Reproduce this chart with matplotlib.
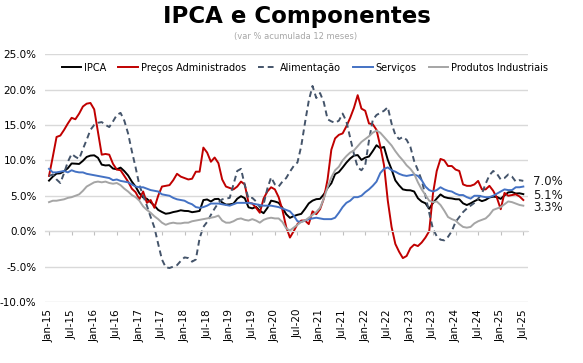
import matplotlib
matplotlib.use("Agg")
import matplotlib.pyplot as plt
import pandas as pd

# months Jan-15 .. Jul-25
months = pd.date_range("2015-01-01", periods=127, freq="MS")
month_labels = [d.strftime("%b-%y") for d in months]

ipca = [7.14, 7.70, 8.13, 8.17, 8.47, 8.89, 9.56, 9.53, 9.49, 9.93, 10.48, 10.67,
        10.71, 10.36, 9.39, 9.28, 9.32, 8.84, 8.74, 8.97, 8.48, 7.87, 6.99, 6.29,
        5.35, 4.76, 4.57, 4.08, 3.60, 3.00, 2.71, 2.46, 2.54, 2.70, 2.80, 2.95,
        2.86, 2.84, 2.68, 2.76, 2.86, 4.39, 4.48, 4.19, 4.53, 4.56, 4.05, 3.75,
        3.78, 3.89, 4.58, 4.94, 4.66, 3.37, 3.22, 3.43, 2.89, 2.54, 3.27, 4.31,
        4.19, 4.01, 3.30, 2.40, 1.88, 2.13, 2.31, 2.44, 3.14, 3.92, 4.31, 4.52,
        4.56, 5.20, 6.10, 6.76, 8.06, 8.35, 8.99, 9.68, 10.25, 10.67, 10.74, 10.06,
        10.38, 10.54, 11.30, 12.13, 11.73, 11.89, 10.07, 8.73, 7.17, 6.47, 5.90, 5.79,
        5.77, 5.60, 4.65, 4.18, 3.94, 3.16, 3.99, 4.61, 5.19, 4.82, 4.68, 4.62,
        4.51, 4.50, 3.93, 3.69, 3.93, 4.23, 4.50, 4.24, 4.42, 4.76, 4.87, 4.83,
        4.56, 5.06, 5.48, 5.53, 5.32, 5.35, 5.23]

administrados = [7.8, 10.5, 13.3, 13.5, 14.3, 15.2, 16.0, 15.8, 16.6, 17.6, 18.0, 18.1,
                 17.2, 14.0, 10.8, 10.9, 10.8, 9.5, 8.7, 8.6, 7.8, 7.0, 6.0, 5.5,
                 4.5, 5.6, 4.0, 4.4, 3.3, 5.0, 6.3, 6.4, 6.5, 7.2, 8.1, 7.7,
                 7.5, 7.3, 7.4, 8.4, 8.4, 11.8, 11.1, 9.8, 10.4, 9.6, 7.3, 6.3,
                 6.1, 5.9, 6.3, 7.0, 6.6, 4.0, 3.9, 3.3, 2.6, 4.6, 5.6, 6.2,
                 5.9, 4.8, 3.0, 0.6, -0.9, 0.0, 1.0, 1.5, 1.5, 1.0, 2.8, 2.4,
                 3.1, 4.6, 7.3, 11.5, 13.1, 13.6, 13.8, 14.8, 16.0, 17.4, 19.2, 17.3,
                 17.0, 15.2, 15.1, 14.3, 12.0, 9.3, 4.3, 0.6, -1.8, -2.9, -3.8, -3.5,
                 -2.4, -1.9, -2.1, -1.6, -0.9, 0.0, 5.3, 8.5, 10.2, 10.0, 9.2, 9.2,
                 8.7, 8.5, 6.6, 6.4, 6.4, 6.6, 7.1, 5.9, 5.9, 6.4, 5.7, 4.7,
                 3.1, 5.4, 5.0, 5.1, 5.2, 4.9, 4.4]

alimentacao = [7.8, 8.0, 7.3, 6.8, 8.2, 9.8, 10.9, 10.5, 10.2, 11.6, 12.9, 14.3,
               15.0, 15.3, 15.4, 15.0, 14.7, 15.5, 16.4, 16.7, 15.6, 13.8, 11.3, 9.0,
               6.5, 5.0, 3.6, 2.0, 0.5, -1.8, -4.0, -5.1, -5.2, -5.0, -4.8, -4.2,
               -3.7, -3.8, -4.3, -4.0, -1.0, 0.6, 1.3, 2.3, 3.2, 4.0, 4.5, 4.6,
               4.7, 6.6, 8.5, 8.8, 6.5, 4.6, 4.7, 4.2, 3.4, 3.8, 6.0, 7.6,
               6.6, 6.3, 7.0, 7.5, 8.4, 9.2, 9.7, 12.0, 15.3, 18.4, 20.5, 18.8,
               19.5, 18.2, 15.8, 15.5, 15.3, 15.6, 16.6, 15.5, 13.2, 10.9, 9.0, 8.6,
               9.3, 12.8, 15.7, 16.4, 16.7, 17.0, 17.5, 15.2, 13.6, 13.0, 13.3, 12.9,
               11.9, 9.9, 8.6, 7.2, 5.0, 2.6, 0.3, -0.7, -1.2, -1.3, -0.8, 0.0,
               1.3, 2.0, 2.7, 3.2, 3.6, 4.0, 4.6, 5.3, 6.7, 7.9, 8.5, 8.1,
               7.3, 7.5, 8.0, 7.7, 7.0, 7.2, 7.1]

servicos = [8.8, 8.3, 8.3, 8.4, 8.5, 8.3, 8.6, 8.4, 8.3, 8.3, 8.1, 8.0,
            7.9, 7.8, 7.7, 7.6, 7.5, 7.2, 7.3, 7.1, 7.0, 6.9, 6.6, 6.3,
            6.2, 6.2, 6.0, 5.8, 5.7, 5.6, 5.2, 5.1, 5.0, 4.7, 4.5, 4.4,
            4.3, 4.0, 3.8, 3.4, 3.3, 3.4, 3.6, 3.9, 3.9, 3.9, 3.8, 3.7,
            3.6, 3.8, 4.0, 4.0, 4.0, 4.0, 3.9, 3.8, 3.7, 3.6, 3.6, 3.6,
            3.5, 3.4, 3.2, 3.0, 2.8, 2.2, 1.4, 1.3, 1.5, 1.7, 1.8, 1.9,
            1.8, 1.7, 1.7, 1.7, 1.9, 2.6, 3.4, 4.0, 4.3, 4.8, 4.8, 5.0,
            5.5, 5.9, 6.4, 7.0, 8.2, 8.8, 9.0, 8.6, 8.4, 8.1, 7.9, 7.8,
            7.9, 8.0, 7.8, 7.2, 6.3, 5.8, 5.6, 5.8, 6.2, 5.9, 5.7, 5.6,
            5.3, 5.1, 5.1, 4.8, 4.6, 5.0, 5.0, 4.9, 4.8, 4.8, 5.0, 5.3,
            5.6, 5.9, 5.8, 5.8, 6.2, 6.2, 6.3]

industriais = [4.1, 4.3, 4.3, 4.4, 4.5, 4.7, 4.8, 5.0, 5.2, 5.7, 6.3, 6.6,
               6.9, 7.0, 6.9, 7.0, 6.8, 6.7, 6.8, 6.5, 6.0, 5.6, 5.1, 4.8,
               4.3, 3.5, 3.0, 2.6, 2.1, 1.7, 1.2, 0.9, 1.1, 1.2, 1.1, 1.1,
               1.2, 1.2, 1.4, 1.5, 1.6, 1.7, 1.8, 1.9, 2.0, 2.2, 1.5, 1.2,
               1.2, 1.4, 1.7, 1.8, 1.6, 1.5, 1.7, 1.5, 1.2, 1.6, 1.8, 1.9,
               1.8, 1.8, 1.3, 0.4, 0.1, 0.5, 0.9, 1.3, 1.5, 1.9, 2.3, 2.7,
               3.3, 4.6, 6.2, 7.6, 8.6, 9.1, 10.0, 10.6, 11.1, 11.4, 12.0, 12.6,
               13.0, 13.4, 13.9, 14.2, 13.9, 13.3, 12.7, 12.1, 11.3, 10.6, 10.0, 9.3,
               8.8, 8.1, 6.9, 5.9, 5.1, 4.3, 4.1, 4.2, 3.7, 2.9, 2.0, 1.7,
               1.5, 1.0, 0.6, 0.5, 0.6, 1.1, 1.4, 1.6, 1.8, 2.3, 3.0, 3.2,
               3.4, 3.8, 4.2, 4.1, 3.9, 3.7, 3.6]

end_labels = ["7.0%", "5.1%", "3.3%"]
end_values = [7.0, 5.1, 3.3]

plt.rcParams["font.family"] = "DejaVu Sans"

fig = plt.figure(figsize=(5.83, 3.63), dpi=100)
ax = fig.add_axes([0.077, 0.168, 0.829, 0.683])

x = list(range(len(months)))
lw = 1.4
ax.plot(x, ipca, color="black", lw=lw, label="IPCA")
ax.plot(x, administrados, color="#C00000", lw=lw, label="Preços Administrados")
ax.plot(x, alimentacao, color="#44546A", lw=lw, ls=(0, (3, 2)), label="Alimentação")
ax.plot(x, servicos, color="#4472C4", lw=lw, label="Serviços")
ax.plot(x, industriais, color="#A5A5A5", lw=lw, label="Produtos Industriais")

ax.set_xlim(-1.1, 127.3)
ax.set_ylim(-10, 25)
ax.set_yticks(range(-10, 30, 5))
ax.set_yticklabels([f"{v:.1f}%" for v in range(-10, 30, 5)], fontsize=7.5)
ax.tick_params(axis="y", length=0, pad=6)
ax.grid(axis="y", color="#D9D9D9", lw=1)
ax.set_axisbelow(True)

for s in ["top", "right", "left"]:
    ax.spines[s].set_visible(False)
ax.spines["bottom"].set_position(("data", 0))
ax.spines["bottom"].set_color("#D9D9D9")

ticks = x[::6]
ax.set_xticks(ticks)
ax.tick_params(axis="x", length=3, color="#BFBFBF", labelbottom=False)

sec = ax.secondary_xaxis("bottom")
sec.set_xticks(ticks)
sec.set_xticklabels([month_labels[i] for i in ticks], rotation=90, fontsize=7.5)
sec.tick_params(length=0, pad=5)
sec.spines["bottom"].set_visible(False)

for lab, v in zip(end_labels, end_values):
    ax.annotate(lab, xy=(x[-1], v), xytext=(7, 0), textcoords="offset points",
                va="center", ha="left", fontsize=8.5, color="#1a1a1a")

fig.legend(loc="center", bbox_to_anchor=(0.523, 0.813), ncol=5, frameon=False,
           fontsize=7, handlelength=2.0, columnspacing=1.25, handletextpad=0.3)

fig.text(0.509, 0.955, "IPCA e Componentes", ha="center", va="center",
         fontsize=16.5, fontweight="bold")
fig.text(0.507, 0.899, "(var % acumulada 12 meses)", ha="center", va="center",
         fontsize=6, color="#A6A6A6")

fig.savefig("out.png", dpi=100)
